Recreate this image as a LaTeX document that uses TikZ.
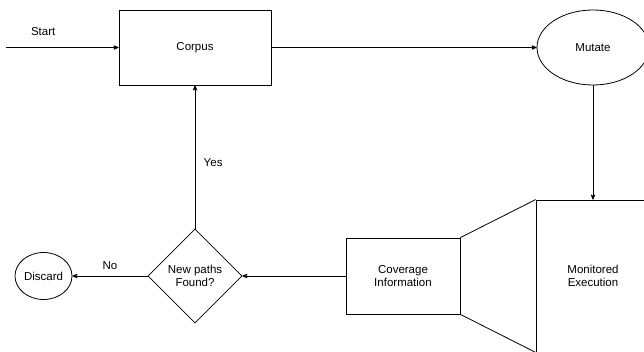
\documentclass[tikz,border=0pt]{standalone}
\usepackage{fontspec}
\setmainfont{Liberation Sans}
\usetikzlibrary{arrows}
\usetikzlibrary{positioning}
\usetikzlibrary{shapes.geometric}

\begin{document}
\begin{tikzpicture}[->,>=stealth',auto,x=1pt,y=-1pt,line width=0.8pt,
                    font=\fontsize{11.5}{12.7}\selectfont,
                    box node/.style={rectangle,draw,align=center,inner sep=0pt},
                    round node/.style={ellipse,draw,align=center,inner sep=0pt},
                    test node/.style={diamond,draw,align=center,inner sep=0pt,minimum size=94pt}]
  \useasboundingbox (0,0) rectangle (644,352);

  \coordinate (start) at (6,47.5);
  \node[box node,minimum width=152pt,minimum height=75pt] (corpus) at (195,47.5) {Corpus};
  \node[round node,minimum width=112pt,minimum height=75pt] (mutate) [right of=corpus,node distance=398pt] {Mutate};

  \node[test node] (found) [below of=corpus,node distance=228.5pt] {New paths\\Found?};
  \node[round node,minimum width=57pt,minimum height=47pt] (discard) [left of=found,node distance=151.5pt] {Discard};
  \node[box node,minimum width=114pt,minimum height=76pt] (coverage) [right of=found,node distance=208pt] {Coverage\\Information};
  \node[box node,minimum width=114pt,minimum height=152pt] (monitor) [right of=coverage,node distance=190pt] {Monitored\\Execution};

  \path
  	(start) edge node[above=8pt,pos=0.33] {Start} (corpus)
  	(corpus) edge (mutate)
  	(mutate) edge (monitor)
  	(coverage) edge (found)
  	(found) edge node[right=5pt,pos=0.46] {Yes} (corpus)
  	(found) edge node[above=3pt] {No} (discard)
  	;

  \draw[-]
  	(coverage.north east) -- (monitor.north west)
  	(coverage.south east) -- (monitor.south west);
\end{tikzpicture}
\end{document}
